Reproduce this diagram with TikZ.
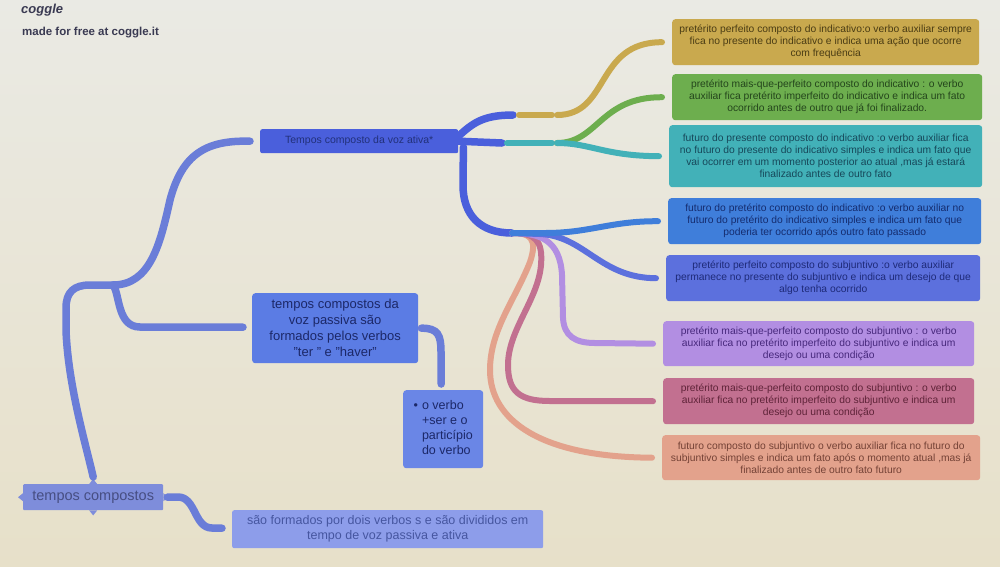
\documentclass[tikz,border=0pt]{standalone}
\usepackage{fontspec}
\setmainfont{Liberation Sans}
\usetikzlibrary{calc}
\definecolor{bgtop}{HTML}{EAEAE4}
\definecolor{bgbot}{HTML}{E7E0C9}
\definecolor{logoc}{HTML}{3A3A52}
\definecolor{goldc}{HTML}{C9A94E}
\definecolor{goldt}{HTML}{4A3C14}
\definecolor{greenc}{HTML}{6DAE4E}
\definecolor{greent}{HTML}{24451C}
\definecolor{tealc}{HTML}{42B1B8}
\definecolor{tealt}{HTML}{17485A}
\definecolor{bluec}{HTML}{3F7EDA}
\definecolor{bluet}{HTML}{152C6E}
\definecolor{indigoc}{HTML}{5C70DD}
\definecolor{indigot}{HTML}{1E2A78}
\definecolor{purplec}{HTML}{B28EE2}
\definecolor{purplet}{HTML}{47287C}
\definecolor{mauvec}{HTML}{C27090}
\definecolor{mauvet}{HTML}{5E2338}
\definecolor{peachc}{HTML}{E3A28C}
\definecolor{peacht}{HTML}{744236}
\definecolor{ativac}{HTML}{4A5FDC}
\definecolor{ativat}{HTML}{22317A}
\definecolor{passc}{HTML}{5B7CE4}
\definecolor{passt}{HTML}{1C2868}
\definecolor{verboc}{HTML}{6A86E6}
\definecolor{rootc}{HTML}{7E8DDB}
\definecolor{roott}{HTML}{474E82}
\definecolor{botc}{HTML}{8D9DEA}
\definecolor{bott}{HTML}{4656A0}
\definecolor{trunkc}{HTML}{6A7DD8}
\begin{document}
\begin{tikzpicture}[x=1pt,y=-1pt,
  box/.style={rounded corners=3pt, inner sep=0pt, align=center, anchor=north west,
    font=\fontsize{10.3}{12}\selectfont},
  link/.style={line width=6pt, line cap=round},
  thick link/.style={line width=7.5pt, line cap=round},
]
\shade[top color=bgtop, bottom color=bgbot] (0,0) rectangle (1000,566);
\useasboundingbox (0,0) rectangle (1000,566);

% logo
\node[anchor=west, inner sep=0pt, text=logoc, font=\fontsize{13}{14}\selectfont\bfseries\itshape] (logo) at (21,10) {coggle};
\node[anchor=west, inner sep=0pt, text=logoc, font=\fontsize{11.5}{13}\selectfont\bfseries] (made) at (22,33) {made for free at coggle.it};

% right boxes
\node[box, fill=goldc, text=goldt, minimum width=307, minimum height=46] (b1) at (672,19)
  {pretérito perfeito composto do indicativo:o verbo auxiliar sempre\\fica no presente do indicativo e indica uma ação que ocorre\\com frequência};
\node[box, fill=greenc, text=greent, minimum width=310, minimum height=46] (b2) at (672,74)
  {pretérito mais-que-perfeito composto do indicativo : o verbo\\auxiliar fica pretérito imperfeito do indicativo e indica um fato\\ocorrido antes de outro que já foi finalizado.};
\node[box, fill=tealc, text=tealt, minimum width=313, minimum height=62] (b3) at (669,125)
  {futuro do presente composto do indicativo :o verbo auxiliar fica\\no futuro do presente do indicativo simples e indica um fato que\\vai ocorrer em um momento posterior ao atual ,mas já estará\\finalizado antes de outro fato};
\node[box, fill=bluec, text=bluet, minimum width=313, minimum height=46] (b4) at (668,198)
  {futuro do pretérito composto do indicativo :o verbo auxiliar no\\futuro do pretérito do indicativo simples e indica um fato que\\poderia ter ocorrido após outro fato passado};
\node[box, fill=indigoc, text=indigot, minimum width=314, minimum height=46] (b5) at (666,255)
  {pretérito perfeito composto do subjuntivo :o verbo auxiliar\\permanece no presente do subjuntivo e indica um desejo de que\\algo tenha ocorrido};
\node[box, fill=purplec, text=purplet, minimum width=311, minimum height=45] (b6) at (663,321)
  {pretérito mais-que-perfeito composto do subjuntivo : o verbo\\auxiliar fica no pretérito imperfeito do subjuntivo e indica um\\desejo ou uma condição};
\node[box, fill=mauvec, text=mauvet, minimum width=311, minimum height=46] (b7) at (663,378)
  {pretérito mais-que-perfeito composto do subjuntivo : o verbo\\auxiliar fica no pretérito imperfeito do subjuntivo e indica um\\desejo ou uma condição};
\node[box, fill=peachc, text=peacht, minimum width=318, minimum height=45] (b8) at (662,435)
  {futuro composto do subjuntivo o verbo auxiliar fica no futuro do\\subjuntivo simples e indica um fato após o momento atual ,mas já\\finalizado antes de outro fato futuro};

% left nodes
\node[box, rounded corners=2pt, fill=ativac, text=ativat, minimum width=198, minimum height=24,
  font=\fontsize{10.5}{12}\selectfont] (ativa) at (260,129) {Tempos composto da voz ativa*};
\node[box, fill=passc, text=passt, minimum width=166, minimum height=70,
  font=\fontsize{13}{16}\selectfont] (pass) at (252,293)
  {tempos compostos da\\voz passiva são\\formados pelos verbos\\"ter " e "haver"};
\node[box, fill=verboc, text=passt, minimum width=80, minimum height=78,
  font=\fontsize{12.5}{15}\selectfont] (verbo) at (403,390)
  {\begin{tabular}{@{}c@{\hspace{4pt}}l@{}}\textbullet & o verbo\\ & +ser e o\\ & particípio\\ & do verbo\end{tabular}};
\node[box, rounded corners=1pt, fill=rootc, text=roott, minimum width=140, minimum height=26,
  font=\fontsize{14.5}{18}\selectfont] (root) at (23,484) {tempos compostos};
\node[box, rounded corners=2pt, fill=botc, text=bott, minimum width=311, minimum height=38,
  font=\fontsize{12.5}{15}\selectfont] (bot) at (232,510)
  {são formados por dois verbos s e são divididos em\\tempo de voz passiva e ativa};

% root notches
\fill[rootc] ($(root.west)+(0,-4)$) -- ++(-5,4) -- ++(5,4) -- cycle;
\fill[rootc] ($(root.east)+(0,-4)$) -- ++(5,4) -- ++(-5,4) -- cycle;
\fill[rootc] ($(root.north)+(-4,0)$) -- ++(4,-5) -- ++(4,5) -- cycle;
\fill[rootc] ($(root.south)+(-4,0)$) -- ++(4,5) -- ++(4,-5) -- cycle;

% junction coordinates
\coordinate (jL) at (113,285);
\coordinate (jU) at (513,115);
\coordinate (jM) at (502,143);
\coordinate (jT) at (557,143);
\coordinate (jD) at (512,233);

% trunk and left branches
\draw[thick link, trunkc] ($(root.north)+(0,-7)$) .. controls (86,445) and (68,385) .. (66,330)
  -- (66,308) .. controls (66,292) and (74,285) .. (90,285) -- (jL);
\draw[thick link, trunkc] (jL) .. controls (150,285) and (160,245) .. (170,200)
  .. controls (182,155) and (205,140) .. ($(ativa.west)+(-10,0)$);
\draw[thick link, trunkc] (jL) .. controls (120,294) and (117,327) .. (140,327) -- ($(pass.west)+(-9,-1)$);
\draw[thick link, trunkc] ($(pass.east)+(3,0)$) .. controls (438,328) and (441,335) .. (441,352) -- ($(verbo.north)+(-2,-6)$);
\draw[thick link, trunkc] ($(root.east)+(4,0)$) -- (178,497) .. controls (196,497) and (194,528) .. (212,528) -- ($(bot.west)+(-10,-1)$);

% ativa branches
\draw[thick link, ativac] ($(ativa.east)+(0,-5)$) .. controls (472,124) and (482,115) .. (jU);
\draw[thick link, ativac] (ativa.east) -- (jM);
\draw[thick link, ativac] ($(ativa.east)+(5,6)$) -- (463,185) .. controls (463,215) and (480,233) .. (jD);

% gold
\draw[link, goldc] ($(jU)+(6,0)$) -- (552,115);
\draw[link, goldc] (557,115) .. controls (610,115) and (595,42) .. ($(b1.west)+(-10,0)$);
% teal and green
\draw[link, tealc] ($(jM)+(5,0)$) -- (552,143);
\draw[link, greenc] (jT) .. controls (598,143) and (600,97) .. ($(b2.west)+(-10,0)$);
\draw[link, tealc] (jT) .. controls (590,143) and (605,156) .. ($(b3.west)+(-10,0)$);

% lower fan
\draw[link, peachc] (jD) .. controls (530,233) and (538,238) .. (530,262)
  .. controls (515,300) and (490,330) .. (490,370)
  .. controls (490,420) and (540,457) .. ($(b8.west)+(-10,0)$);
\draw[link, mauvec] (jD) .. controls (535,233) and (543,240) .. (541,265)
  .. controls (538,300) and (508,330) .. (508,365)
  .. controls (508,392) and (520,401) .. (550,401) -- ($(b7.west)+(-10,0)$);
\draw[link, purplec] (jD) .. controls (540,233) and (560,240) .. (562,275)
  -- (563,318) .. controls (564,336) and (575,343) .. (595,343) -- ($(b6.west)+(-10,0)$);
\draw[link, indigoc] (jD) -- (540,234) .. controls (585,236) and (600,278) .. ($(b5.west)+(-10,0)$);
\draw[link, bluec] (jD) -- (545,233) .. controls (590,233) and (610,221) .. ($(b4.west)+(-10,0)$);
\end{tikzpicture}
\end{document}
